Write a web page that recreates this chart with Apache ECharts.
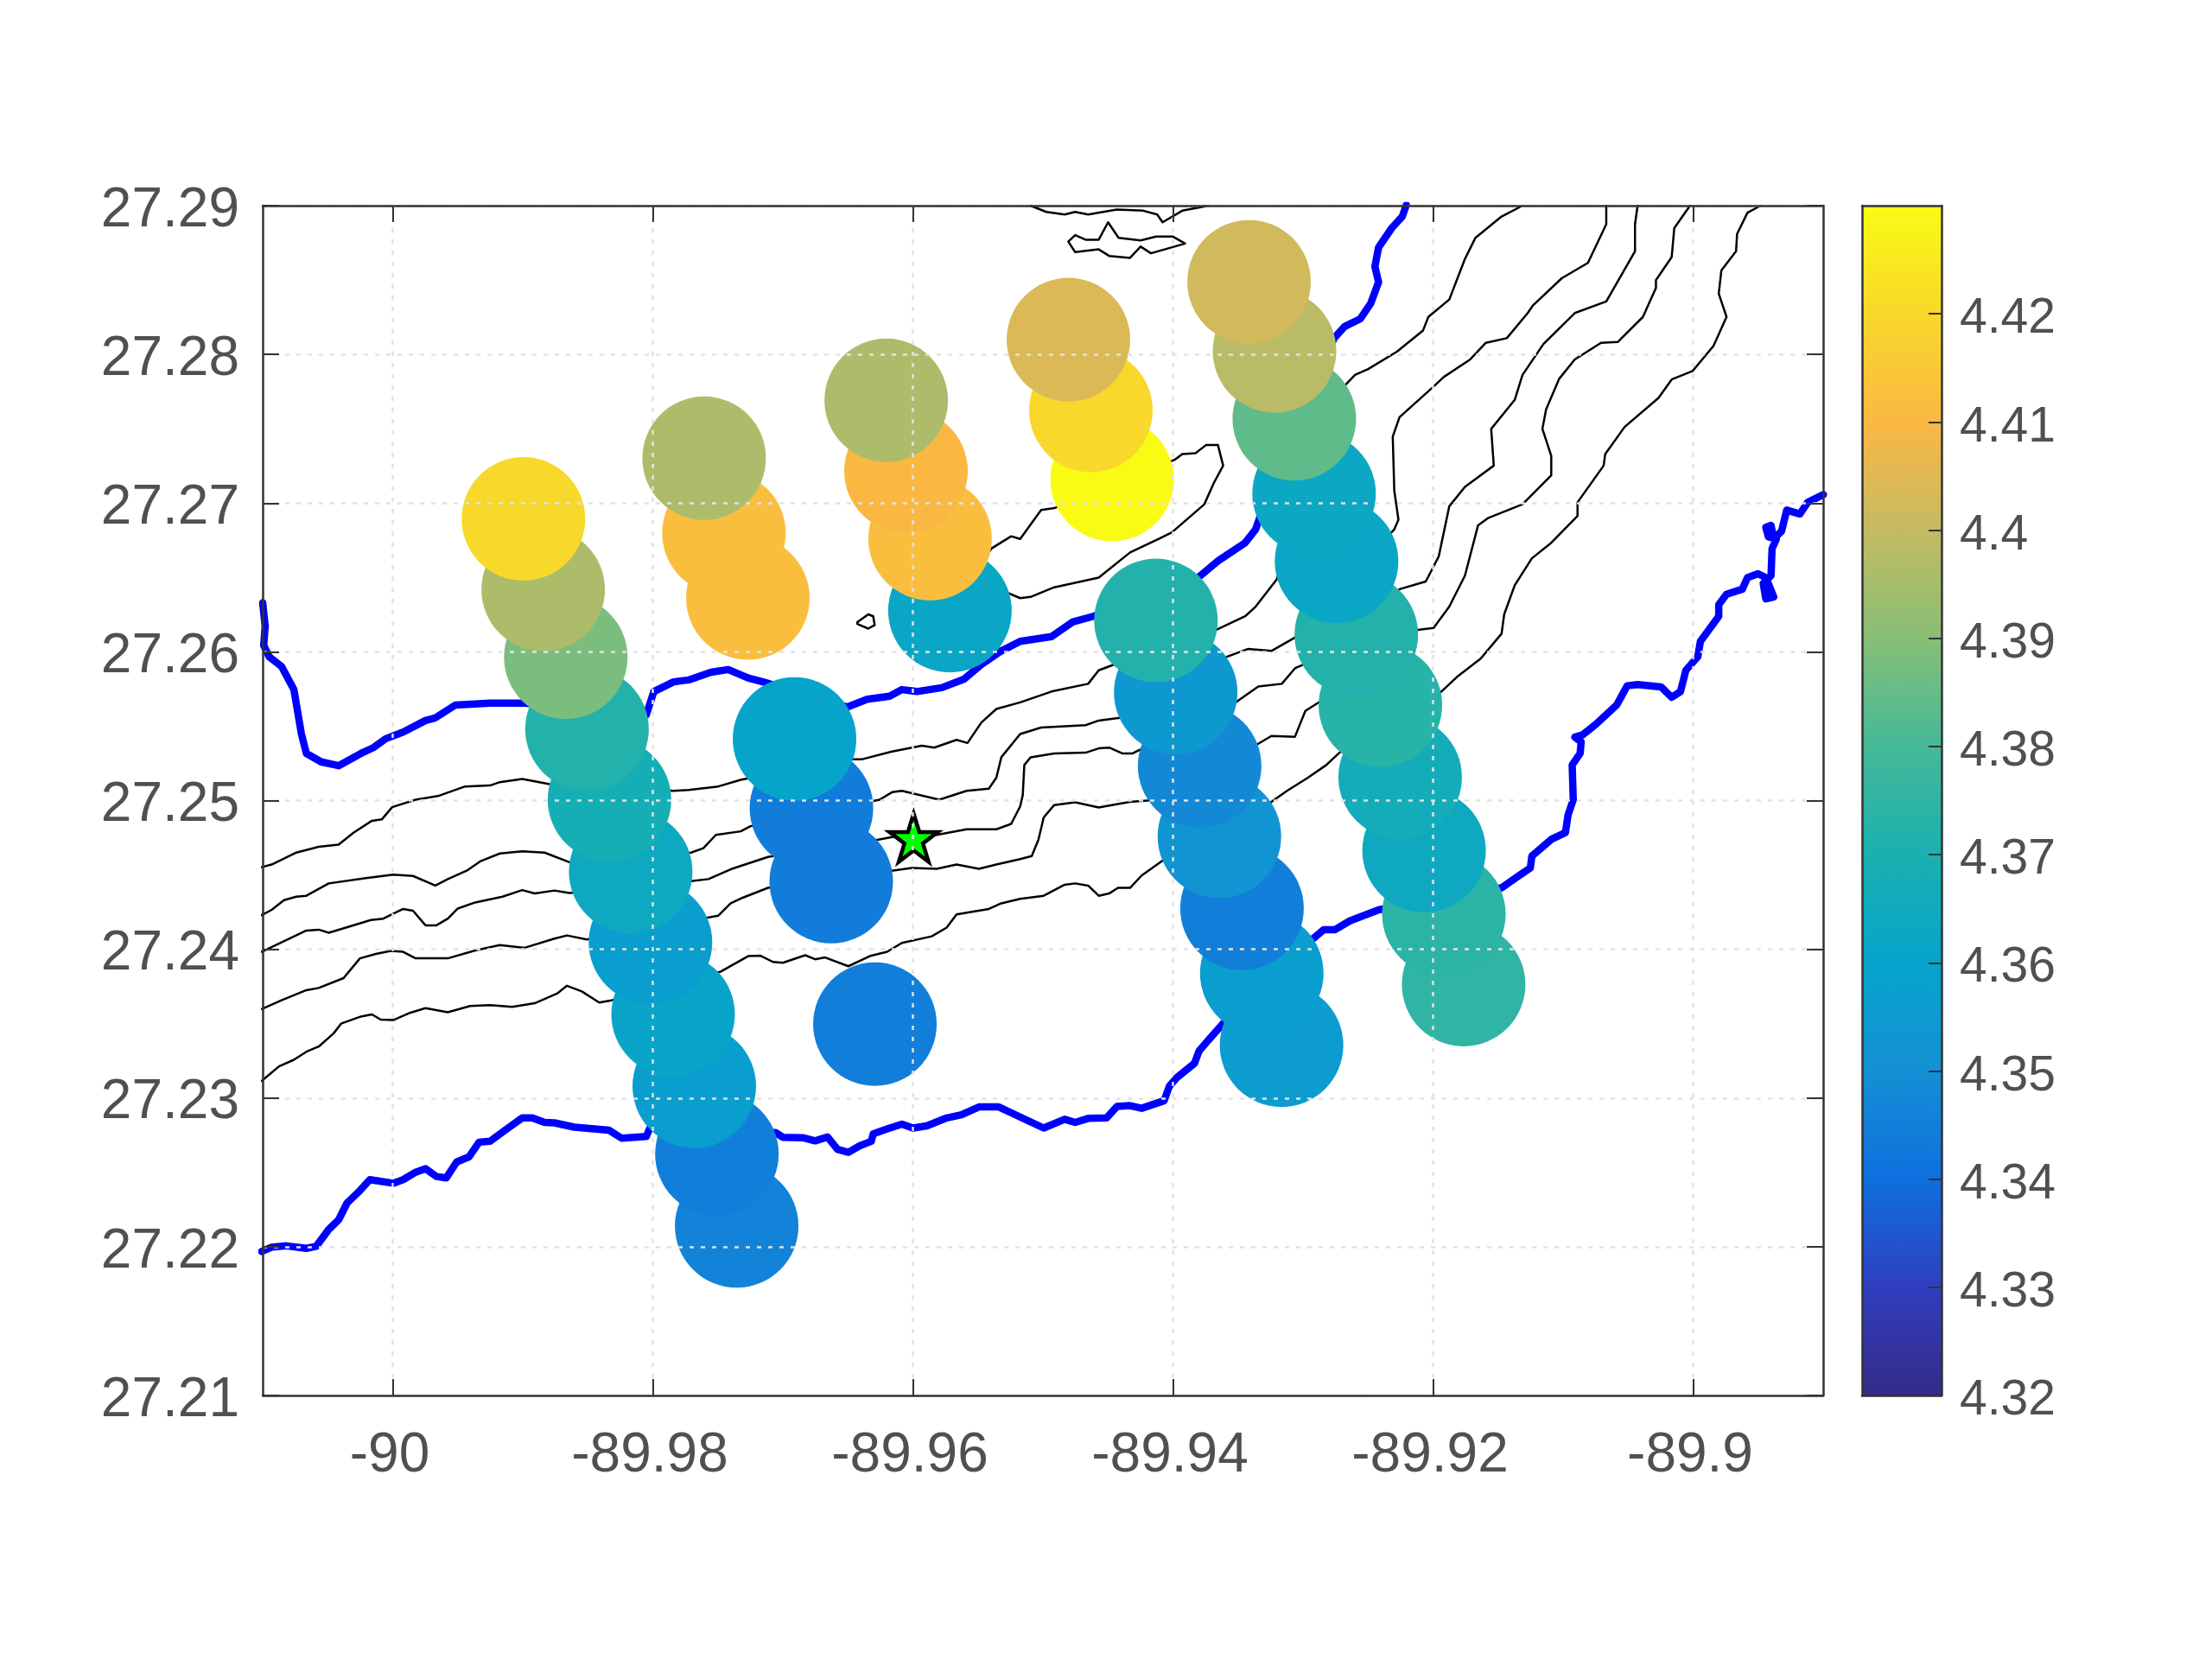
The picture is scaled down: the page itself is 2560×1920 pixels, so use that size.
<!DOCTYPE html>
<html>
<head>
<meta charset="utf-8">
<title>chart</title>
<script src="https://cdn.jsdelivr.net/npm/echarts@6/dist/echarts.min.js"></script>
<style>
html, body { margin: 0; padding: 0; background: #fff; }
#chart { width: 2560px; height: 1920px; }
</style>
</head>
<body>
<div id="chart"></div>
<script>
var xTicks = [-90, -89.98, -89.96, -89.94, -89.92, -89.9]
var yTicks = [27.21, 27.22, 27.23, 27.24, 27.25, 27.26, 27.27, 27.28, 27.29]
var barTicks = [4.32, 4.33, 4.34, 4.35, 4.36, 4.37, 4.38, 4.39, 4.4, 4.41, 4.42]

// colour bar read from bottom (4.32) to top (4.43)
var barColors = ['#352A87', '#2F3FBF', '#0F6FDE', '#1490D4', '#06A4CB', '#1AB0B0', '#45B997', '#88BE76', '#C5BA62', '#FAB843', '#F8D82A', '#F9FB15']

// sample tracks, drawn in this order so the upper circle covers the lower one
var circleLon = [
    -89.97355, -89.97507, -89.97681, -89.97844, -89.98018, -89.9817, -89.98333, -89.98506, -89.98669, -89.98843, -89.98995,
    -89.97269, -89.97453, -89.97605,
    -89.96292, -89.96628, -89.9678, -89.9691,
    -89.95715, -89.95868, -89.96053, -89.96205,
    -89.94468, -89.94631, -89.94804,
    -89.93165, -89.93317, -89.93469, -89.93643, -89.93795, -89.93979, -89.94131,
    -89.91765, -89.91917, -89.92069, -89.92253, -89.92405, -89.9259, -89.92742, -89.92915, -89.93067, -89.93219, -89.93415
]
var circleLat = [
    27.2214, 27.22624, 27.23079, 27.23563, 27.24047, 27.24522, 27.25006, 27.2548, 27.25964, 27.26419, 27.26894,
    27.26362, 27.26799, 27.27302,
    27.23497, 27.24455, 27.24949, 27.25414,
    27.26277, 27.26761, 27.27216, 27.27691,
    27.27159, 27.27624, 27.28099,
    27.23355, 27.23839, 27.24275, 27.24759, 27.25233, 27.25727, 27.26211,
    27.23763, 27.24237, 27.24664, 27.25157, 27.25641, 27.26116, 27.26609, 27.27064, 27.27567, 27.28023, 27.28488
]
var circleVal = [
    4.346, 4.345, 4.357, 4.361, 4.357, 4.364, 4.368, 4.372, 4.388, 4.396, 4.42,
    4.412, 4.412, 4.396,
    4.345, 4.344, 4.344, 4.36,
    4.362, 4.412, 4.41, 4.396,
    4.43, 4.42, 4.404,
    4.356, 4.357, 4.345, 4.352, 4.348, 4.354, 4.372,
    4.375, 4.374, 4.364, 4.367, 4.373, 4.372, 4.362, 4.363, 4.384, 4.398, 4.402
]

var starPoint = [-89.95994, 27.2475]

var blueNorth = [
    [-90.01, 27.2633], [-90.00981, 27.26174], [-90.00992, 27.26044], [-90.0095, 27.25967], [-90.00855, 27.25902],
    [-90.0076, 27.25746], [-90.00702, 27.25447], [-90.00664, 27.25317], [-90.0055, 27.2526], [-90.00416, 27.25234],
    [-90.00244, 27.25317], [-90.00149, 27.25356], [-90.00053, 27.25416], [-89.9992, 27.2546], [-89.99748, 27.25538],
    [-89.99672, 27.25556], [-89.99519, 27.25642], [-89.99252, 27.25655], [-89.98985, 27.25655], [-89.9805, 27.25577],
    [-89.97992, 27.25733], [-89.9784, 27.25798], [-89.97725, 27.25811], [-89.97553, 27.25863], [-89.9742, 27.25881],
    [-89.97267, 27.25824], [-89.97153, 27.25798], [-89.96504, 27.25629], [-89.96351, 27.25681], [-89.96179, 27.25702],
    [-89.96084, 27.25746], [-89.95969, 27.25733], [-89.95778, 27.25759], [-89.95607, 27.25816], [-89.95473, 27.25915],
    [-89.9532, 27.26006], [-89.95175, 27.2607], [-89.94934, 27.26102], [-89.94773, 27.262], [-89.94612, 27.26239],
    [-89.93807, 27.26499], [-89.93646, 27.26616], [-89.93445, 27.26733], [-89.93364, 27.26824], [-89.93324, 27.26927],
    [-89.92761, 27.28109], [-89.9268, 27.28187], [-89.92559, 27.28239], [-89.92479, 27.28343], [-89.92419, 27.28486],
    [-89.92447, 27.2859], [-89.92419, 27.28719], [-89.92318, 27.28849], [-89.92237, 27.28927], [-89.92205, 27.29005]
]
var blueSouth = [
    [-90.01008, 27.21968], [-90.00931, 27.21997], [-90.00817, 27.22006], [-90.00664, 27.21989], [-90.00588, 27.22003],
    [-90.00492, 27.22116], [-90.00416, 27.22181], [-90.00351, 27.22294], [-90.00263, 27.22368], [-90.00176, 27.22451],
    [-89.99996, 27.22427], [-89.9992, 27.22451], [-89.99824, 27.22501], [-89.99748, 27.22525], [-89.99664, 27.22472],
    [-89.99588, 27.22463], [-89.99508, 27.2257], [-89.99412, 27.22605], [-89.99336, 27.22703], [-89.99252, 27.22709],
    [-89.99137, 27.22783], [-89.99004, 27.22866], [-89.98927, 27.22866], [-89.98832, 27.22836], [-89.98756, 27.22833],
    [-89.98603, 27.22804], [-89.98488, 27.22795], [-89.98336, 27.22783], [-89.9824, 27.2273], [-89.9805, 27.22741],
    [-89.98023, 27.22798], [-89.97057, 27.22768], [-89.97, 27.22736], [-89.96847, 27.22733], [-89.96752, 27.22712],
    [-89.96656, 27.22738], [-89.9658, 27.22655], [-89.96496, 27.22635], [-89.96408, 27.22679], [-89.9632, 27.22709],
    [-89.96305, 27.22759], [-89.96198, 27.22792], [-89.96084, 27.22824], [-89.96, 27.22798], [-89.95893, 27.22813],
    [-89.9574, 27.22866], [-89.95626, 27.22887], [-89.95492, 27.2294], [-89.95339, 27.2294], [-89.95175, 27.22872],
    [-89.94994, 27.22798], [-89.94833, 27.22857], [-89.94752, 27.22836], [-89.94652, 27.22863], [-89.94511, 27.22866],
    [-89.94431, 27.22943], [-89.9433, 27.22949], [-89.94241, 27.22931], [-89.94068, 27.22982], [-89.94028, 27.23079],
    [-89.93968, 27.23139], [-89.93835, 27.23233], [-89.93799, 27.23316], [-89.93726, 27.23391], [-89.93606, 27.23509],
    [-89.92922, 27.24072], [-89.92841, 27.24132], [-89.92753, 27.24132], [-89.9264, 27.24191], [-89.92419, 27.24265],
    [-89.91473, 27.24413], [-89.91352, 27.24487], [-89.91252, 27.24547], [-89.9124, 27.24627], [-89.91091, 27.24739],
    [-89.90982, 27.24784], [-89.90962, 27.24902], [-89.90922, 27.25006], [-89.9093, 27.25239], [-89.90869, 27.25317],
    [-89.90861, 27.25395], [-89.9091, 27.25426], [-89.90849, 27.25442], [-89.90749, 27.25512], [-89.90588, 27.25642],
    [-89.90507, 27.25772], [-89.90427, 27.2578], [-89.90246, 27.25764], [-89.90165, 27.25694], [-89.90097, 27.25733],
    [-89.90056, 27.25876], [-89.89964, 27.25967], [-89.89944, 27.2607], [-89.89803, 27.26239], [-89.89803, 27.26317],
    [-89.89743, 27.26387], [-89.89622, 27.26421], [-89.89582, 27.26499], [-89.89501, 27.26525], [-89.89441, 27.26499],
    [-89.8938, 27.26369], [-89.89441, 27.26356], [-89.89461, 27.2646], [-89.89401, 27.26512], [-89.89393, 27.26694],
    [-89.8936, 27.26759], [-89.89421, 27.26772], [-89.89441, 27.26837], [-89.89401, 27.2685], [-89.8938, 27.26759],
    [-89.8932, 27.26811], [-89.8928, 27.26953], [-89.89179, 27.26927], [-89.89119, 27.27005], [-89.88998, 27.27057]
]

var contourA = [
    [-90.01008, 27.23115], [-90.00874, 27.23213], [-90.0076, 27.23257], [-90.00664, 27.23311], [-90.00569, 27.23346],
    [-90.00454, 27.23435], [-90.00397, 27.235], [-90.00244, 27.23548], [-90.0016, 27.23562], [-90.00092, 27.23527],
    [-89.99996, 27.23524], [-89.99863, 27.23574], [-89.99748, 27.23604], [-89.99576, 27.23577], [-89.99405, 27.23619],
    [-89.99252, 27.23625], [-89.9908, 27.23613], [-89.98908, 27.23637], [-89.98737, 27.23702], [-89.9866, 27.23755],
    [-89.98546, 27.23717], [-89.98412, 27.23642], [-89.98317, 27.23657], [-89.97477, 27.2385], [-89.97267, 27.23954],
    [-89.97172, 27.23957], [-89.97076, 27.23915], [-89.97, 27.23909], [-89.96828, 27.2396], [-89.96752, 27.23933],
    [-89.96675, 27.23945], [-89.96496, 27.23886], [-89.96332, 27.23954], [-89.96198, 27.23983], [-89.96084, 27.24043],
    [-89.95855, 27.24087], [-89.9574, 27.24146], [-89.95664, 27.24235], [-89.95416, 27.24271], [-89.9532, 27.24309],
    [-89.95175, 27.24339], [-89.94994, 27.2436], [-89.94833, 27.24434], [-89.94752, 27.24443], [-89.94652, 27.24428],
    [-89.94571, 27.2436], [-89.94491, 27.24375], [-89.94423, 27.24413], [-89.9433, 27.24413], [-89.94241, 27.24496],
    [-89.94089, 27.24591], [-89.93243, 27.24991], [-89.93123, 27.25065], [-89.92962, 27.25154], [-89.92821, 27.25239],
    [-89.9272, 27.25322], [-89.91936, 27.25733], [-89.91815, 27.25832], [-89.91634, 27.25954], [-89.91473, 27.26122],
    [-89.91453, 27.26252], [-89.91372, 27.26447], [-89.9124, 27.26629], [-89.91091, 27.26733], [-89.90889, 27.26914],
    [-89.90889, 27.27005], [-89.90688, 27.27252], [-89.90676, 27.2733], [-89.90527, 27.27512], [-89.90266, 27.27707],
    [-89.90165, 27.27831], [-89.90004, 27.27888], [-89.89843, 27.28057], [-89.89743, 27.28252], [-89.89803, 27.28408],
    [-89.89783, 27.28564], [-89.8967, 27.28693], [-89.89662, 27.2881], [-89.89582, 27.28953], [-89.89481, 27.29]
]
var contourB = [
    [-90.01008, 27.23598], [-90.00855, 27.23657], [-90.00664, 27.23725], [-90.00569, 27.2374], [-90.00378, 27.23806],
    [-90.00252, 27.23939], [-90.0013, 27.23969], [-90.00015, 27.23989], [-89.9992, 27.23983], [-89.99824, 27.23939],
    [-89.99576, 27.23939], [-89.99366, 27.23992], [-89.99176, 27.24028], [-89.98985, 27.2401], [-89.98756, 27.24072],
    [-89.9866, 27.24093], [-89.98508, 27.24066], [-89.97496, 27.24226], [-89.97401, 27.24309], [-89.97305, 27.24348],
    [-89.97114, 27.24413], [-89.96007, 27.24547], [-89.95817, 27.24541], [-89.95664, 27.2457], [-89.95492, 27.24541],
    [-89.95358, 27.2457], [-89.95175, 27.24606], [-89.95086, 27.24627], [-89.95034, 27.24739], [-89.94994, 27.24887],
    [-89.94913, 27.2497], [-89.94752, 27.24988], [-89.94571, 27.24953], [-89.9433, 27.24991], [-89.94109, 27.25006],
    [-89.93344, 27.25382], [-89.93243, 27.25434], [-89.93062, 27.25429], [-89.92982, 27.25603], [-89.92841, 27.25681],
    [-89.92117, 27.26148], [-89.91996, 27.26161], [-89.91875, 27.26304], [-89.91755, 27.26512], [-89.91654, 27.2685],
    [-89.91574, 27.26901], [-89.91312, 27.26992], [-89.91091, 27.27187], [-89.91091, 27.27317], [-89.91159, 27.27499],
    [-89.91131, 27.27629], [-89.9103, 27.27836], [-89.9091, 27.27966], [-89.90708, 27.28078], [-89.9058, 27.28083],
    [-89.90386, 27.28252], [-89.90286, 27.28447], [-89.90286, 27.28499], [-89.90165, 27.28654], [-89.90145, 27.28849],
    [-89.90024, 27.29]
]
var contourC = [
    [-90.01008, 27.23983], [-90.00664, 27.24126], [-90.00569, 27.24132], [-90.00492, 27.24111], [-90.00359, 27.24146],
    [-90.00168, 27.24197], [-90.00073, 27.24206], [-89.9992, 27.24271], [-89.99844, 27.24259], [-89.99748, 27.24161],
    [-89.99664, 27.24161], [-89.99576, 27.24206], [-89.995, 27.24274], [-89.99366, 27.24315], [-89.99156, 27.24354],
    [-89.99004, 27.24398], [-89.98908, 27.24375], [-89.98756, 27.24395], [-89.98641, 27.24378], [-89.97706, 27.24458],
    [-89.97572, 27.24472], [-89.97401, 27.24538], [-89.97114, 27.24621], [-89.96256, 27.24739], [-89.9616, 27.24754],
    [-89.95817, 27.24769], [-89.95587, 27.24807], [-89.95358, 27.24807], [-89.95244, 27.24843], [-89.95175, 27.24961],
    [-89.95155, 27.25037], [-89.95143, 27.25239], [-89.95095, 27.25291], [-89.94913, 27.25317], [-89.94672, 27.25322],
    [-89.94571, 27.25351], [-89.94491, 27.25356], [-89.9439, 27.25317], [-89.9431, 27.25317], [-89.93505, 27.25668],
    [-89.93344, 27.25767], [-89.93163, 27.25785], [-89.93062, 27.25889], [-89.92982, 27.2592], [-89.92258, 27.26421],
    [-89.92056, 27.26473], [-89.91956, 27.26642], [-89.91875, 27.26979], [-89.91755, 27.27109], [-89.91533, 27.27252],
    [-89.91553, 27.27499], [-89.91372, 27.27694], [-89.91312, 27.27862], [-89.91151, 27.2807], [-89.9091, 27.28278],
    [-89.90668, 27.28356], [-89.90447, 27.28693], [-89.90447, 27.28875], [-89.90427, 27.29]
]
var contourD = [
    [-90.01008, 27.24229], [-90.00931, 27.24265], [-90.00836, 27.2433], [-90.00741, 27.24354], [-90.00664, 27.2436],
    [-90.00492, 27.24443], [-90.00206, 27.24478], [-89.99996, 27.24502], [-89.99844, 27.24493], [-89.99672, 27.24428],
    [-89.99576, 27.24472], [-89.99424, 27.24532], [-89.99328, 27.24591], [-89.99176, 27.24644], [-89.99004, 27.24659],
    [-89.98832, 27.2465], [-89.98641, 27.24585], [-89.97706, 27.2465], [-89.97611, 27.2468], [-89.97515, 27.24769],
    [-89.97324, 27.24793], [-89.97248, 27.24828], [-89.96256, 27.25006], [-89.9616, 27.25056], [-89.96084, 27.25065],
    [-89.95797, 27.25006], [-89.95587, 27.25065], [-89.95416, 27.2508], [-89.95358, 27.25154], [-89.9532, 27.25291],
    [-89.95175, 27.25447], [-89.95014, 27.25491], [-89.94672, 27.25507], [-89.94571, 27.25538], [-89.9441, 27.25556],
    [-89.93586, 27.25967], [-89.93425, 27.26019], [-89.93243, 27.26006], [-89.93062, 27.26096], [-89.92298, 27.26824],
    [-89.92266, 27.26888], [-89.92298, 27.27083], [-89.9231, 27.27447], [-89.92258, 27.27577], [-89.91996, 27.27784],
    [-89.91916, 27.27849], [-89.91714, 27.27966], [-89.91594, 27.28078], [-89.91433, 27.28109], [-89.91272, 27.28278],
    [-89.91231, 27.2833], [-89.9101, 27.28512], [-89.90809, 27.28615], [-89.90668, 27.28875], [-89.90668, 27.29]
]
var contourE = [
    [-90.01008, 27.24552], [-90.00931, 27.2457], [-90.00741, 27.2465], [-90.00569, 27.24689], [-90.00416, 27.24704],
    [-90.00302, 27.24784], [-90.0016, 27.24864], [-90.00084, 27.24873], [-90.00004, 27.24956], [-89.99824, 27.25006],
    [-89.99653, 27.2503], [-89.99443, 27.25095], [-89.99252, 27.25101], [-89.99176, 27.25124], [-89.99004, 27.25145],
    [-89.98794, 27.2511], [-89.9784, 27.25065], [-89.97725, 27.25071], [-89.97496, 27.25095], [-89.97324, 27.25139],
    [-89.96504, 27.25278], [-89.96389, 27.25278], [-89.9616, 27.2533], [-89.95931, 27.25369], [-89.95836, 27.25356],
    [-89.95664, 27.25408], [-89.9558, 27.25387], [-89.95473, 27.25525], [-89.95358, 27.25616], [-89.95175, 27.2566],
    [-89.94934, 27.25733], [-89.94652, 27.25785], [-89.94571, 27.25876], [-89.94451, 27.25915], [-89.93666, 27.26148],
    [-89.93445, 27.26239], [-89.93364, 27.26304], [-89.93203, 27.26486], [-89.92672, 27.27797], [-89.926, 27.27862],
    [-89.92499, 27.27901], [-89.92278, 27.28018], [-89.92077, 27.28161], [-89.92036, 27.28252], [-89.91875, 27.28369],
    [-89.91755, 27.28641], [-89.91674, 27.28784], [-89.91473, 27.28927], [-89.91312, 27.29]
]
var contourTip = [
    [-89.95397, 27.26694], [-89.95244, 27.26777], [-89.95175, 27.26759], [-89.95014, 27.26953], [-89.94913, 27.26966],
    [-89.93988, 27.27291], [-89.93928, 27.2733], [-89.93827, 27.27335], [-89.93746, 27.2739], [-89.93654, 27.2739],
    [-89.93614, 27.27252], [-89.93686, 27.27135], [-89.93759, 27.26992], [-89.94008, 27.26803], [-89.94109, 27.26759],
    [-89.9433, 27.26668], [-89.94571, 27.26499], [-89.94913, 27.26434], [-89.95095, 27.26369], [-89.95175, 27.26361],
    [-89.9555, 27.265], [-89.95397, 27.26694]
]
var contourTop = [
    [-89.95095, 27.29], [-89.94974, 27.28958], [-89.94833, 27.2894], [-89.94752, 27.28958], [-89.94652, 27.2894],
    [-89.94431, 27.28974], [-89.94229, 27.28966], [-89.94121, 27.2894], [-89.9408, 27.28888], [-89.93928, 27.28966],
    [-89.93726, 27.29]
]
var contourIsland = [
    [-89.94805, 27.28758], [-89.94752, 27.28802], [-89.94672, 27.28771], [-89.94571, 27.28771], [-89.94499, 27.28888],
    [-89.94418, 27.28784], [-89.94249, 27.28766], [-89.94129, 27.28792], [-89.94, 27.28792], [-89.93907, 27.28745],
    [-89.94169, 27.2868], [-89.94249, 27.28725], [-89.9433, 27.28649], [-89.94491, 27.28662], [-89.94571, 27.28706],
    [-89.94752, 27.28688], [-89.94805, 27.28758]
]
var contourSmall = [
    [-89.96427, 27.262], [-89.96343, 27.26252], [-89.96305, 27.26239], [-89.96294, 27.2618], [-89.96343, 27.26156],
    [-89.96427, 27.26187], [-89.96427, 27.262]
]

var contours = [contourA, contourB, contourC, contourD, contourE, contourTip, contourTop, contourIsland, contourSmall]

var labelFont = 'Liberation Sans, Arial, Helvetica, sans-serif'
var textColor = '#505050'
var boxColor = '#333333'
var gridColor = '#e2e2e2'

var lineSeries = function (data, color, width) {
    return {
        type: 'line',
        data: data,
        symbol: 'none',
        clip: true,
        silent: true,
        lineStyle: { color: color, width: width, join: 'round', cap: 'round' },
        z: 2
    }
}

// rich token so the label text can sit a few pixels below its tick, as in the picture
var tickLabel = function (v) { return '{t|' + v + '}' }

var mainAxis = function (ticks, position, min, max, labelled, margin, padding) {
    return {
        type: 'value',
        gridIndex: 0,
        position: position,
        min: min,
        max: max,
        z: 5,
        axisLine: { show: true, onZero: false, lineStyle: { color: boxColor, width: 2.5 } },
        axisTick: { show: true, inside: true, length: 19, customValues: ticks, lineStyle: { color: boxColor, width: 2 } },
        axisLabel: {
            show: labelled,
            customValues: ticks,
            margin: margin,
            showMinLabel: true,
            showMaxLabel: true,
            formatter: tickLabel,
            rich: { t: { color: textColor, fontSize: 64, fontFamily: labelFont, padding: padding } }
        },
        splitLine: {
            show: labelled,
            lineStyle: { color: gridColor, width: 2.5, type: [5, 8] }
        }
    }
}

var series = []
contours.forEach(function (c) { series.push(lineSeries(c, '#000000', 2.5)) })
series.push(lineSeries(blueNorth, '#0000ff', 8.5))
series.push(lineSeries(blueSouth, '#0000ff', 8.5))

var circleData = circleLon.map(function (lon, i) { return [lon, circleLat[i], circleVal[i]] })
var circleIndex = series.length
series.push({
    type: 'scatter',
    data: circleData,
    symbol: 'circle',
    symbolSize: 143,
    silent: true,
    itemStyle: { opacity: 1 },
    progressive: 0,
    z: 3
})
series.push({
    type: 'scatter',
    data: [starPoint],
    symbol: 'path://M50 0 L61.2 34.5 L97.6 34.5 L68.2 55.9 L79.4 90.5 L50 69.1 L20.6 90.5 L31.8 55.9 L2.4 34.5 L38.8 34.5 Z',
    symbolSize: 56,
    silent: true,
    itemStyle: { color: '#00ff00', borderColor: '#000000', borderWidth: 4.5, opacity: 1 },
    z: 4
})
series.push({
    type: 'bar',
    xAxisIndex: 2,
    yAxisIndex: 2,
    data: [4.43],
    barWidth: '100%',
    silent: true,
    itemStyle: {
        color: new echarts.graphic.LinearGradient(0, 1, 0, 0, barColors.map(function (c, i) {
            return { offset: i / (barColors.length - 1), color: c }
        }))
    },
    z: 2
})

var chart = echarts.init(document.getElementById('chart'))
chart.setOption({
    animation: false,
    backgroundColor: '#ffffff',
    grid: [
        { left: 304, top: 238, width: 1806, height: 1377, show: false },
        { left: 2155, top: 238, width: 92, height: 1377, show: false }
    ],
    visualMap: {
        show: false,
        type: 'continuous',
        min: 4.32,
        max: 4.43,
        dimension: 2,
        seriesIndex: circleIndex,
        inRange: { color: barColors }
    },
    xAxis: [
        mainAxis(xTicks, 'bottom', -90.01, -89.89, true, 38, [0, 7, 0, 0]),
        mainAxis(xTicks, 'top', -90.01, -89.89, false, 0),
        {
            type: 'category',
            gridIndex: 1,
            data: ['c'],
            position: 'bottom',
            z: 5,
            axisLine: { show: true, lineStyle: { color: boxColor, width: 2.5 } },
            axisTick: { show: false },
            axisLabel: { show: false },
            splitLine: { show: false }
        },
        {
            type: 'category',
            gridIndex: 1,
            data: ['c'],
            position: 'top',
            z: 5,
            axisLine: { show: true, lineStyle: { color: boxColor, width: 2.5 } },
            axisTick: { show: false },
            axisLabel: { show: false },
            splitLine: { show: false }
        }
    ],
    yAxis: [
        mainAxis(yTicks, 'left', 27.21, 27.29, true, 27, [12, 0, 0, 0]),
        mainAxis(yTicks, 'right', 27.21, 27.29, false, 0),
        {
            type: 'value',
            gridIndex: 1,
            position: 'right',
            min: 4.32,
            max: 4.43,
            z: 5,
            axisLine: { show: true, onZero: false, lineStyle: { color: boxColor, width: 2.5 } },
            axisTick: { show: true, inside: true, length: 15, customValues: barTicks, lineStyle: { color: boxColor, width: 2 } },
            axisLabel: {
                customValues: barTicks,
                margin: 21,
                formatter: tickLabel,
                rich: { t: { color: textColor, fontSize: 57, fontFamily: labelFont, padding: [13, 0, 0, 0] } }
            },
            splitLine: { show: false }
        },
        {
            type: 'value',
            gridIndex: 1,
            position: 'left',
            min: 4.32,
            max: 4.43,
            z: 5,
            axisLine: { show: true, onZero: false, lineStyle: { color: boxColor, width: 2.5 } },
            axisTick: { show: false },
            axisLabel: { show: false },
            splitLine: { show: false }
        }
    ],
    series: series
})
</script>
</body>
</html>
